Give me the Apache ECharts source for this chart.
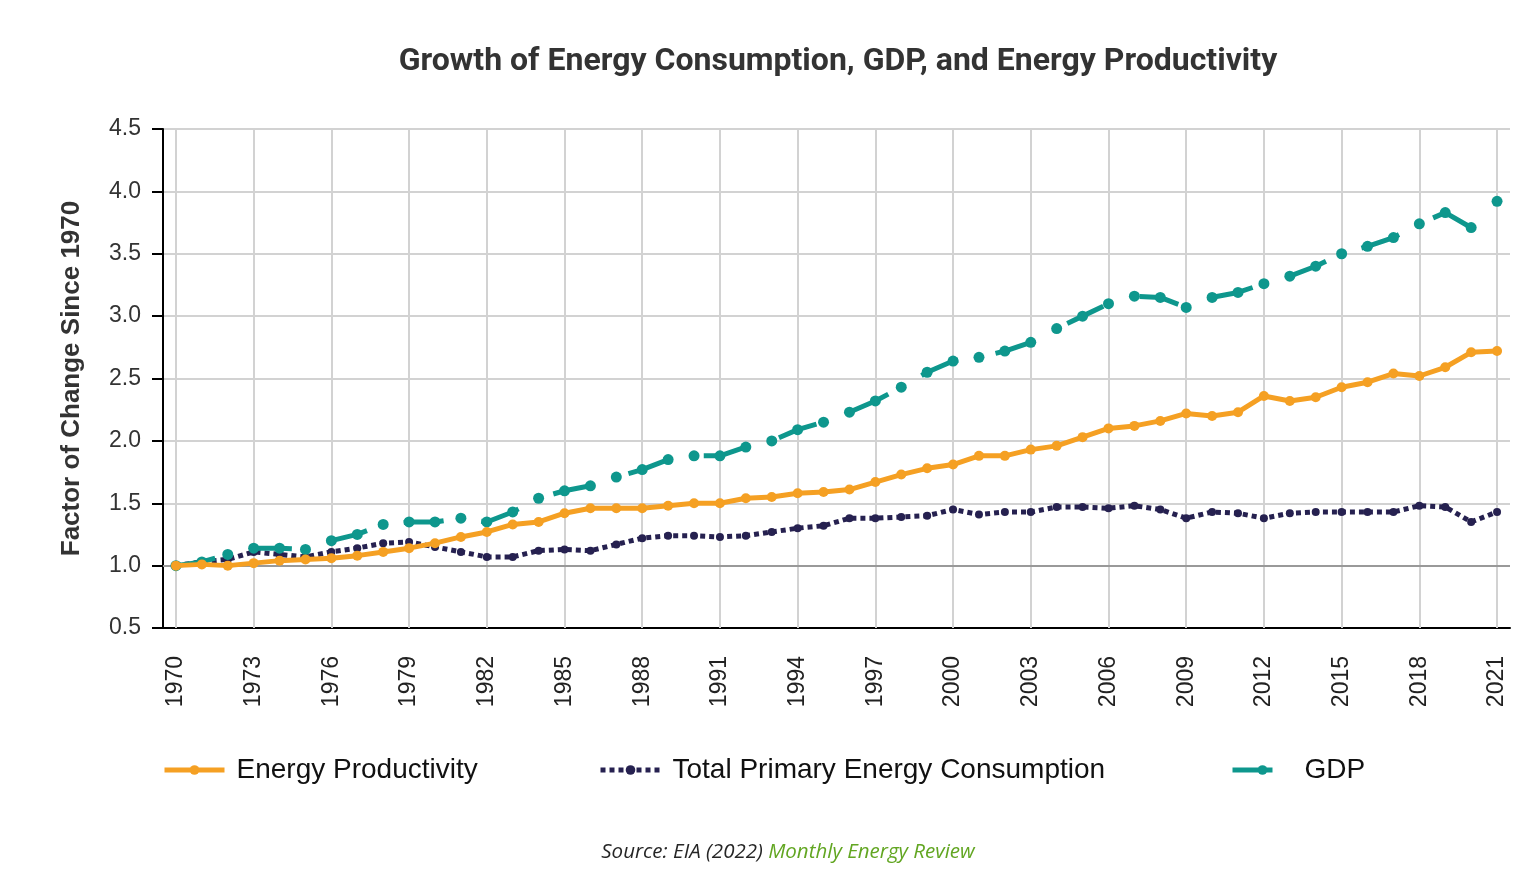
<!DOCTYPE html>
<html>
<head>
<meta charset="utf-8">
<script src="https://cdn.jsdelivr.net/npm/echarts@6/dist/echarts.min.js"></script>
<style>
html,body{margin:0;padding:0;background:#fff;}
#c{width:1536px;height:880px;}
</style>
</head>
<body>
<div id="c"></div>
<script>
var years = [];
for (var y = 1970; y <= 2021; y++) years.push(String(y));

var energyProductivity = [1.00,1.01,1.00,1.02,1.04,1.05,1.06,1.08,1.11,1.14,1.18,1.23,1.27,1.33,1.35,1.42,1.46,1.46,1.46,1.48,1.50,1.50,1.54,1.55,1.58,1.59,1.61,1.67,1.73,1.78,1.81,1.88,1.88,1.93,1.96,2.03,2.10,2.12,2.16,2.22,2.20,2.23,2.36,2.32,2.35,2.43,2.47,2.54,2.52,2.59,2.71,2.72];
var totalPrimaryEnergy = [1.00,1.03,1.05,1.11,1.09,1.07,1.11,1.14,1.18,1.19,1.15,1.11,1.07,1.07,1.12,1.13,1.12,1.17,1.22,1.24,1.24,1.23,1.24,1.27,1.30,1.32,1.38,1.38,1.39,1.40,1.45,1.41,1.43,1.43,1.47,1.47,1.46,1.48,1.45,1.38,1.43,1.42,1.38,1.42,1.43,1.43,1.43,1.43,1.48,1.47,1.35,1.43];
var gdp = [1.00,1.03,1.09,1.14,1.14,1.13,1.20,1.25,1.33,1.35,1.35,1.38,1.35,1.43,1.54,1.60,1.64,1.71,1.77,1.85,1.88,1.88,1.95,2.00,2.09,2.15,2.23,2.32,2.43,2.55,2.64,2.67,2.72,2.79,2.90,3.00,3.10,3.16,3.15,3.07,3.15,3.19,3.26,3.32,3.40,3.50,3.56,3.63,3.74,3.83,3.71,3.92];

var gridYears = years.filter(function(v, i){ return i % 3 === 0; });

var cOrange = '#F5A023', cNavy = '#262150', cTeal = '#0E978D';

var chart = echarts.init(document.getElementById('c'), null, {renderer:'canvas'});
var legendText = {fontFamily:'Liberation Sans, Arial, sans-serif', fontSize:28, color:'#111', padding:[0,0,0,7]};
function leg(name, left){
  return {data:[name], left:left, top:751, itemWidth:60, itemHeight:12, textStyle:legendText,
    lineStyle:{width:5}};
}
chart.setOption({
  animation:false,
  backgroundColor:'#fff',
  title:{
    text:'Growth of Energy Consumption, GDP, and Energy Productivity',
    left:838, textAlign:'center', top:46, padding:0,
    textStyle:{fontFamily:'Roboto, sans-serif', fontWeight:'bold', fontSize:32, color:'#333'}
  },
  grid:{left:163, right:26, top:129, bottom:252, containLabel:false},
  legend:[
    leg('Energy Productivity', 157),
    leg('Total Primary Energy Consumption', 593),
    leg('GDP', 1225)
  ],
  xAxis:{
    type:'category', data:years, boundaryGap:true,
    axisLine:{lineStyle:{color:'#000', width:2}},
    axisTick:{alignWithLabel:true, interval:2, length:10, lineStyle:{color:'#000', width:2}},
    axisLabel:{interval:2, rotate:90, margin:28, fontFamily:'Liberation Sans, Arial, sans-serif', fontSize:23, color:'#222'},
    splitLine:{show:false}
  },
  yAxis:{
    type:'value', min:0.5, max:4.5, interval:0.5,
    name:'Factor of Change Since 1970', nameLocation:'middle', nameGap:78,
    nameTextStyle:{fontFamily:'Liberation Sans, Arial, sans-serif', fontWeight:'bold', fontSize:26, color:'#333'},
    axisLine:{show:true, lineStyle:{color:'#000', width:2}},
    axisTick:{show:true, length:11, lineStyle:{color:'#000', width:2}},
    axisLabel:{margin:22, fontFamily:'Liberation Sans, Arial, sans-serif', fontSize:23, color:'#333',
      formatter:function(v){ return v.toFixed(1); }},
    splitLine:{lineStyle:{color:'#d2d2d2', width:2}}
  },
  graphic:[{
    type:'text', x:788, y:852,
    style:{
      text:'{a|Source: EIA (2022) }{b|Monthly Energy Review}',
      align:'center', verticalAlign:'middle',
      rich:{
        a:{fontFamily:'Open Sans, sans-serif', fontStyle:'italic', fontSize:20.5, fill:'#262626', color:'#262626'},
        b:{fontFamily:'Open Sans, sans-serif', fontStyle:'italic', fontSize:20.5, fill:'#62A622', color:'#62A622'}
      }
    }
  }],
  series:[
    {
      name:'gridlines', type:'line', data:[], silent:true, z:1,
      markLine:{
        silent:true, symbol:'none', z:1, animation:false,
        label:{show:false},
        lineStyle:{color:'#d2d2d2', type:'solid', width:2},
        data: gridYears.map(function(v){ return {xAxis:v}; }).concat([
          {yAxis:1, lineStyle:{color:'#999', width:2, type:'solid'}}
        ])
      }
    },
    {
      name:'Total Primary Energy Consumption', type:'line', data:totalPrimaryEnergy, z:3,
      symbol:'circle', symbolSize:8, showSymbol:true,
      itemStyle:{color:cNavy},
      lineStyle:{color:cNavy, width:5, type:[5,4]}
    },
    {
      name:'GDP', type:'line', data:gdp, z:4,
      symbol:'circle', symbolSize:11, showSymbol:true,
      itemStyle:{color:cTeal},
      lineStyle:{color:cTeal, width:5, type:[40,38]}
    },
    {
      name:'Energy Productivity', type:'line', data:energyProductivity, z:5,
      symbol:'circle', symbolSize:10, showSymbol:true,
      itemStyle:{color:cOrange},
      lineStyle:{color:cOrange, width:5}
    }
  ]
});
</script>
</body>
</html>
